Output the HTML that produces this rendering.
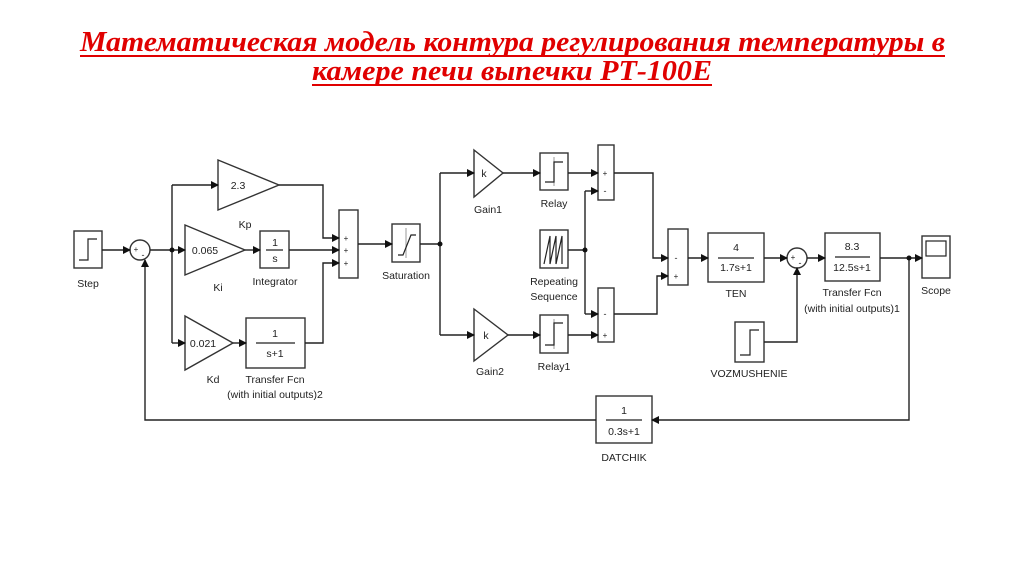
<!DOCTYPE html>
<html><head><meta charset="utf-8"><style>
html,body{margin:0;padding:0;background:#fff;}
svg{display:block;}
text{font-family:"Liberation Sans",sans-serif;fill:#222;}
.t{font-family:"Liberation Serif","Noto Serif CJK SC",serif;font-weight:bold;font-style:italic;fill:#e00000;}
</style></head><body>
<svg width="1024" height="574" viewBox="0 0 1024 574" xmlns="http://www.w3.org/2000/svg">
<defs>
<marker id="a" markerWidth="8" markerHeight="8" refX="7" refY="4" orient="auto" markerUnits="userSpaceOnUse">
<path d="M0,0 L8,4 L0,8 Z" fill="#111"/></marker>
</defs>
<rect width="1024" height="574" fill="#fff"/>
<text class="t" x="80" y="51" font-size="28" textLength="865" lengthAdjust="spacingAndGlyphs">Математическая модель контура регулирования температуры в</text>
<line x1="80" y1="56" x2="945" y2="56" stroke="#e00000" stroke-width="2"/>
<text class="t" x="312" y="80" font-size="28" textLength="400" lengthAdjust="spacingAndGlyphs">камере печи выпечки РТ-100Е</text>
<line x1="312" y1="85" x2="712" y2="85" stroke="#e00000" stroke-width="2"/>

<g fill="#fff" stroke="#333" stroke-width="1.4">
<rect x="74" y="231" width="28" height="37"/>
<circle cx="140" cy="250" r="10"/>
<polygon points="218,160 279,185 218,210"/>
<polygon points="185,225 245,250 185,275"/>
<rect x="260" y="231" width="29" height="37"/>
<polygon points="185,316 233,343 185,370"/>
<rect x="246" y="318" width="59" height="50"/>
<rect x="339" y="210" width="19" height="68"/>
<rect x="392" y="224" width="28" height="38"/>
<polygon points="474,150 503,173 474,197"/>
<rect x="540" y="153" width="28" height="37"/>
<rect x="598" y="145" width="16" height="55"/>
<rect x="540" y="230" width="28" height="38"/>
<rect x="598" y="288" width="16" height="54"/>
<polygon points="474,309 508,335 474,361"/>
<rect x="540" y="315" width="28" height="38"/>
<rect x="668" y="229" width="20" height="56"/>
<rect x="708" y="233" width="56" height="49"/>
<circle cx="797" cy="258" r="10"/>
<rect x="735" y="322" width="29" height="40"/>
<rect x="825" y="233" width="55" height="48"/>
<rect x="922" y="236" width="28" height="42"/>
<rect x="596" y="396" width="56" height="47"/>
</g>
<g fill="none" stroke="#222" stroke-width="1.2">
<path d="M79,260 H88 V239 H97"/>
<path d="M740,355 H750 V330 H759"/>
<line x1="406" y1="228" x2="406" y2="258" stroke="#aaa"/>
<path d="M398,255 H403 L411,235 H416"/>
<line x1="554" y1="157" x2="554" y2="186" stroke="#aaa"/>
<path d="M545,182 H554 V162 H563"/>
<line x1="554" y1="319" x2="554" y2="349" stroke="#aaa"/>
<path d="M545,345 H554 V323 H563"/>
<path d="M544,264 L550,236 V264 L556,236 V264 L562,236 V264"/>
<rect x="926" y="241" width="20" height="15"/>
<line x1="266" y1="250" x2="283" y2="250"/>
<line x1="256" y1="343" x2="295" y2="343"/>
<line x1="718" y1="258" x2="754" y2="258"/>
<line x1="835" y1="257" x2="870" y2="257"/>
<line x1="606" y1="420" x2="642" y2="420"/>
</g>
<g fill="none" stroke="#222" stroke-width="1.4">
<line x1="102" y1="250" x2="130" y2="250" marker-end="url(#a)"/>
<line x1="150" y1="250" x2="172" y2="250"/>
<path d="M172,185 V343"/>
<line x1="172" y1="185" x2="218" y2="185" marker-end="url(#a)"/>
<line x1="172" y1="250" x2="185" y2="250" marker-end="url(#a)"/>
<line x1="172" y1="343" x2="185" y2="343" marker-end="url(#a)"/>
<line x1="245" y1="250" x2="260" y2="250" marker-end="url(#a)"/>
<line x1="233" y1="343" x2="246" y2="343" marker-end="url(#a)"/>
<path d="M279,185 H323 V238 H339" marker-end="url(#a)"/>
<line x1="289" y1="250" x2="339" y2="250" marker-end="url(#a)"/>
<path d="M305,343 H323 V263 H339" marker-end="url(#a)"/>
<line x1="358" y1="244" x2="392" y2="244" marker-end="url(#a)"/>
<line x1="420" y1="244" x2="440" y2="244"/>
<path d="M440,173 V335"/>
<line x1="440" y1="173" x2="474" y2="173" marker-end="url(#a)"/>
<line x1="440" y1="335" x2="474" y2="335" marker-end="url(#a)"/>
<line x1="503" y1="173" x2="540" y2="173" marker-end="url(#a)"/>
<line x1="508" y1="335" x2="540" y2="335" marker-end="url(#a)"/>
<line x1="568" y1="173" x2="598" y2="173" marker-end="url(#a)"/>
<line x1="568" y1="335" x2="598" y2="335" marker-end="url(#a)"/>
<line x1="568" y1="250" x2="585" y2="250"/>
<path d="M585,191 V314"/>
<line x1="585" y1="191" x2="598" y2="191" marker-end="url(#a)"/>
<line x1="585" y1="314" x2="598" y2="314" marker-end="url(#a)"/>
<path d="M614,173 H653 V258 H668" marker-end="url(#a)"/>
<path d="M614,314 H657 V276 H668" marker-end="url(#a)"/>
<line x1="688" y1="258" x2="708" y2="258" marker-end="url(#a)"/>
<line x1="764" y1="258" x2="787" y2="258" marker-end="url(#a)"/>
<path d="M764,342 H797 V268" marker-end="url(#a)"/>
<line x1="807" y1="258" x2="825" y2="258" marker-end="url(#a)"/>
<line x1="880" y1="258" x2="922" y2="258" marker-end="url(#a)"/>
<path d="M909,258 V420 H652" marker-end="url(#a)"/>
<path d="M596,420 H145 V260" marker-end="url(#a)"/>
</g>
<g fill="#111">
<circle cx="172" cy="250" r="2.5"/><circle cx="440" cy="244" r="2.5"/>
<circle cx="585" cy="250" r="2.5"/><circle cx="909" cy="258" r="2.5"/>
</g>
<g font-size="10.5" text-anchor="middle">
<text x="88" y="287">Step</text>
<text x="136" y="252" font-size="8">+</text><text x="143" y="258" font-size="9">-</text>
<text x="793" y="260" font-size="8">+</text><text x="800" y="266" font-size="9">-</text>
<text x="238" y="189">2.3</text><text x="245" y="228">Kp</text>
<text x="205" y="254">0.065</text><text x="218" y="291">Ki</text>
<text x="275" y="246">1</text><text x="275" y="262">s</text><text x="275" y="285">Integrator</text>
<text x="203" y="347">0.021</text><text x="213" y="383">Kd</text>
<text x="275" y="337">1</text><text x="275" y="357">s+1</text>
<text x="275" y="383">Transfer Fcn</text><text x="275" y="398">(with initial outputs)2</text>
<text x="346" y="241" font-size="8">+</text><text x="346" y="253" font-size="8">+</text><text x="346" y="266" font-size="8">+</text>
<text x="406" y="279">Saturation</text>
<text x="484" y="177">k</text><text x="488" y="213">Gain1</text>
<text x="554" y="207">Relay</text>
<text x="605" y="176" font-size="8">+</text><text x="605" y="194" font-size="9">-</text>
<text x="554" y="285">Repeating</text><text x="554" y="300">Sequence</text>
<text x="605" y="317" font-size="9">-</text><text x="605" y="338" font-size="8">+</text>
<text x="486" y="339">k</text><text x="490" y="375">Gain2</text>
<text x="554" y="370">Relay1</text>
<text x="676" y="261" font-size="9">-</text><text x="676" y="279" font-size="8">+</text>
<text x="736" y="251">4</text><text x="736" y="271">1.7s+1</text><text x="736" y="297">TEN</text>
<text x="749" y="377">VOZMUSHENIE</text>
<text x="852" y="250">8.3</text><text x="852" y="271">12.5s+1</text>
<text x="852" y="296">Transfer Fcn</text><text x="852" y="312">(with initial outputs)1</text>
<text x="936" y="294">Scope</text>
<text x="624" y="414">1</text><text x="624" y="435">0.3s+1</text><text x="624" y="461">DATCHIK</text>
</g>
</svg>
</body></html>
